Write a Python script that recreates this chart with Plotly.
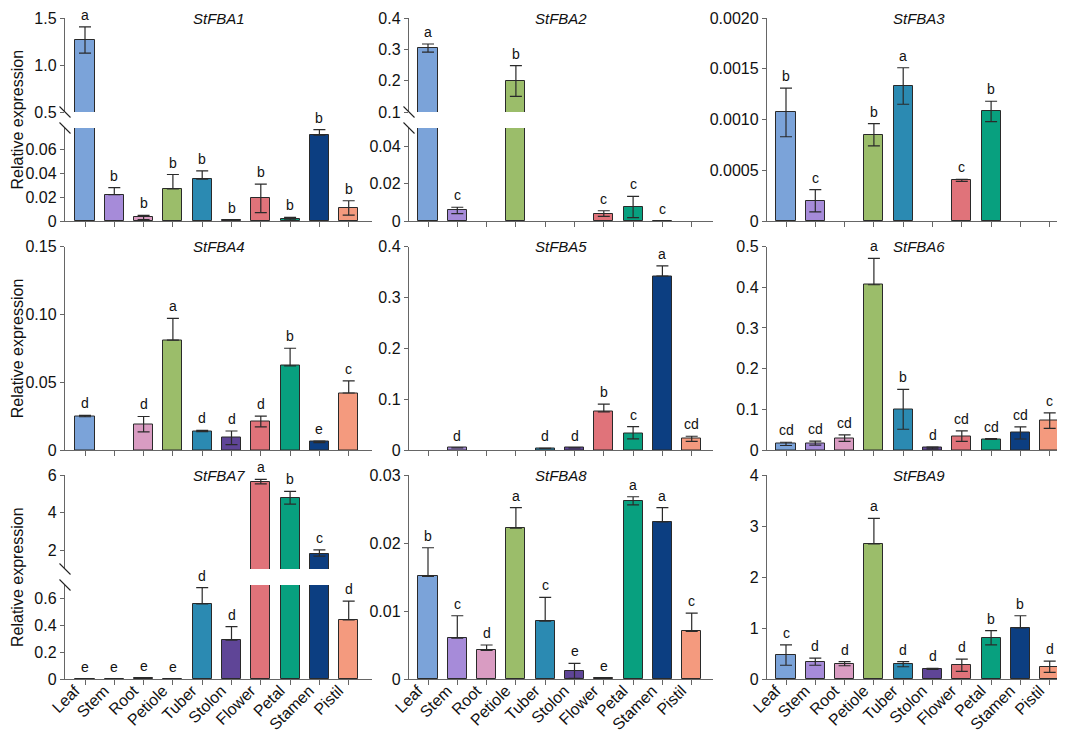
import plotly.graph_objects as go

# ---------------- data ----------------
categories = ["Leaf", "Stem", "Root", "Petiole", "Tuber", "Stolon", "Flower", "Petal", "Stamen", "Pistil"]
bar_colors = ["#7BA3D9", "#A68BD9", "#D99CC2", "#9BBD6A", "#2B8AB2", "#5F4597",
              "#E0737A", "#08A07F", "#0C3E81", "#F49A7E"]

FBA1_mean = [1.266, 0.022, 0.003, 0.027, 0.035, 0.0005, 0.019, 0.002, 0.072, 0.011]
FBA1_up = [0.14, 0.006, 0.0018, 0.012, 0.007, 0.0003, 0.012, 0.001, 0.0047, 0.006]
FBA1_down = [0.14, 0, 0.0018, 0, 0, 0, 0.012, 0.001, 0, 0.006]
FBA1_letters = ["a", "b", "b", "b", "b", "b", "b", "b", "b", "b"]

FBA2_mean = [0.304, 0.0057, 0, 0.198, 0, 0, 0.004, 0.0075, 0.0002, 0]
FBA2_up = [0.013, 0.0017, 0, 0.05, 0, 0, 0.0015, 0.0057, 0, 0]
FBA2_down = [0.013, 0.0017, 0, 0.048, 0, 0, 0.0015, 0.0057, 0, 0]
FBA2_letters = ["a", "c", "", "b", "", "", "c", "c", "c", ""]

FBA3_mean = [0.00107, 0.0002, 0, 0.00085, 0.00133, 0, 0.0004, 0.00108, 0, 0]
FBA3_up = [0.00024, 0.00011, 0, 0.00011, 0.00018, 0, 0.00001, 0.0001, 0, 0]
FBA3_down = [0.00024, 0.00011, 0, 0.00011, 0.00018, 0, 0.00001, 0.0001, 0, 0]
FBA3_letters = ["b", "c", "", "b", "a", "", "c", "b", "", ""]

FBA4_mean = [0.025, 0, 0.019, 0.081, 0.014, 0.009, 0.021, 0.062, 0.006, 0.042]
FBA4_up = [0.0005, 0, 0.0057, 0.016, 0.0005, 0.005, 0.004, 0.013, 0.0005, 0.009]
FBA4_down = [0.0005, 0, 0.0057, 0, 0.0005, 0.005, 0.004, 0, 0.0005, 0]
FBA4_letters = ["d", "", "d", "a", "d", "d", "d", "b", "e", "c"]

FBA5_mean = [0, 0.004, 0, 0, 0.003, 0.004, 0.075, 0.033, 0.342, 0.022]
FBA5_up = [0, 0, 0, 0, 0, 0, 0.015, 0.013, 0.02, 0.005]
FBA5_down = [0, 0, 0, 0, 0, 0, 0, 0.011, 0, 0.005]
FBA5_letters = ["", "d", "", "", "d", "d", "b", "c", "a", "cd"]

FBA6_mean = [0.015, 0.017, 0.029, 0.406, 0.1, 0.005, 0.034, 0.027, 0.042, 0.072]
FBA6_up = [0.004, 0.005, 0.008, 0.065, 0.049, 0.002, 0.013, 0.001, 0.015, 0.019]
FBA6_down = [0.004, 0.005, 0.008, 0, 0.049, 0.002, 0.013, 0.001, 0.015, 0.019]
FBA6_letters = ["cd", "cd", "cd", "a", "b", "d", "cd", "cd", "cd", "c"]

FBA7_mean = [0.003, 0.003, 0.006, 0.003, 0.56, 0.29, 5.65, 4.78, 1.82, 0.44]
FBA7_up = [0, 0, 0, 0, 0.12, 0.1, 0.12, 0.35, 0.2, 0.14]
FBA7_down = [0, 0, 0, 0, 0, 0, 0.12, 0.33, 0.14, 0]
FBA7_letters = ["e", "e", "e", "e", "d", "d", "a", "b", "c", "d"]

FBA8_mean = [0.0151, 0.006, 0.0042, 0.0222, 0.0085, 0.0012, 0.0001, 0.0262, 0.0231, 0.007]
FBA8_up = [0.0042, 0.0033, 0.0008, 0.003, 0.0035, 0.0011, 0, 0.0006, 0.0021, 0.0027]
FBA8_down = [0, 0, 0, 0, 0, 0.0011, 0, 0.0006, 0, 0]
FBA8_letters = ["b", "c", "d", "a", "c", "e", "e", "a", "a", "c"]

FBA9_mean = [0.47, 0.34, 0.30, 2.65, 0.29, 0.20, 0.27, 0.81, 1.0, 0.24]
FBA9_up = [0.2, 0.07, 0.04, 0.5, 0.05, 0.01, 0.12, 0.14, 0.24, 0.11]
FBA9_down = [0.2, 0.07, 0.04, 0, 0.05, 0.01, 0.12, 0.14, 0, 0.11]
FBA9_letters = ["c", "d", "d", "a", "d", "d", "d", "b", "b", "d"]

gene_names = ["StFBA1", "StFBA2", "StFBA3", "StFBA4", "StFBA5", "StFBA6", "StFBA7", "StFBA8", "StFBA9"]

# y-axis ticks
FBA1_ticks, FBA1_ticktext = [0, 0.02, 0.04, 0.06], ["0", "0.02", "0.04", "0.06"]
FBA1_upper_ticks, FBA1_upper_ticktext = [0.5, 1.0, 1.5], ["0.5", "1.0", "1.5"]
FBA2_ticks, FBA2_ticktext = [0, 0.02, 0.04], ["0", "0.02", "0.04"]
FBA2_upper_ticks, FBA2_upper_ticktext = [0.1, 0.2, 0.3, 0.4], ["0.1", "0.2", "0.3", "0.4"]
FBA3_ticks, FBA3_ticktext = [0, 0.0005, 0.001, 0.0015, 0.002], ["0", "0.0005", "0.0010", "0.0015", "0.0020"]
FBA4_ticks, FBA4_ticktext = [0, 0.05, 0.1, 0.15], ["0", "0.05", "0.10", "0.15"]
FBA5_ticks, FBA5_ticktext = [0, 0.1, 0.2, 0.3, 0.4], ["0", "0.1", "0.2", "0.3", "0.4"]
FBA6_ticks, FBA6_ticktext = [0, 0.1, 0.2, 0.3, 0.4, 0.5], ["0", "0.1", "0.2", "0.3", "0.4", "0.5"]
FBA7_ticks, FBA7_ticktext = [0, 0.2, 0.4, 0.6], ["0", "0.2", "0.4", "0.6"]
FBA7_upper_ticks, FBA7_upper_ticktext = [2, 4, 6], ["2", "4", "6"]
FBA8_ticks, FBA8_ticktext = [0, 0.01, 0.02, 0.03], ["0", "0.01", "0.02", "0.03"]
FBA9_ticks, FBA9_ticktext = [0, 1, 2, 3, 4], ["0", "1", "2", "3", "4"]

# ---------------- layout geometry (pixels) ----------------
W, H = 1065, 730
FONT = "Arial, 'Liberation Sans', sans-serif"
AXC = "#666666"
EDGE = "#2a2a2a"


def pxx(x):
    return x / W


def pxy(y):
    return 1 - y / H


cols = [(57, 364, 77), (401, 705, 420), (759, 1062, 778)]  # axis left, axis right, first tick
SPACING = 29.3
rows = [(10, 213), (238.5, 442), (467, 671)]

panels = [
    dict(mean=FBA1_mean, up=FBA1_up, down=FBA1_down, letters=FBA1_letters,
         ticks=FBA1_ticks, ticktext=FBA1_ticktext, yrange=[0, 0.078],
         upper=dict(range=[0.5, 1.5], ticks=FBA1_upper_ticks, ticktext=FBA1_upper_ticktext, split=(104, 120))),
    dict(mean=FBA2_mean, up=FBA2_up, down=FBA2_down, letters=FBA2_letters,
         ticks=FBA2_ticks, ticktext=FBA2_ticktext, yrange=[0, 0.05],
         upper=dict(range=[0.1, 0.4], ticks=FBA2_upper_ticks, ticktext=FBA2_upper_ticktext, split=(104, 120))),
    dict(mean=FBA3_mean, up=FBA3_up, down=FBA3_down, letters=FBA3_letters,
         ticks=FBA3_ticks, ticktext=FBA3_ticktext, yrange=[0, 0.002], upper=None),
    dict(mean=FBA4_mean, up=FBA4_up, down=FBA4_down, letters=FBA4_letters,
         ticks=FBA4_ticks, ticktext=FBA4_ticktext, yrange=[0, 0.15], upper=None),
    dict(mean=FBA5_mean, up=FBA5_up, down=FBA5_down, letters=FBA5_letters,
         ticks=FBA5_ticks, ticktext=FBA5_ticktext, yrange=[0, 0.4], upper=None),
    dict(mean=FBA6_mean, up=FBA6_up, down=FBA6_down, letters=FBA6_letters,
         ticks=FBA6_ticks, ticktext=FBA6_ticktext, yrange=[0, 0.5], upper=None),
    dict(mean=FBA7_mean, up=FBA7_up, down=FBA7_down, letters=FBA7_letters,
         ticks=FBA7_ticks, ticktext=FBA7_ticktext, yrange=[0, 0.7],
         upper=dict(range=[1, 6], ticks=FBA7_upper_ticks, ticktext=FBA7_upper_ticktext, split=(561, 577))),
    dict(mean=FBA8_mean, up=FBA8_up, down=FBA8_down, letters=FBA8_letters,
         ticks=FBA8_ticks, ticktext=FBA8_ticktext, yrange=[0, 0.03], upper=None),
    dict(mean=FBA9_mean, up=FBA9_up, down=FBA9_down, letters=FBA9_letters,
         ticks=FBA9_ticks, ticktext=FBA9_ticktext, yrange=[0, 4], upper=None),
]


def akey(kind, n):
    return f"{kind}axis" if n == 1 else f"{kind}axis{n}"


def aref(kind, n):
    return kind if n == 1 else f"{kind}{n}"


fig = go.Figure()
layout = {}
annotations = []
shapes = []
next_extra = 10
xidx = list(range(len(categories)))


def add_bars(n_x, n_y, p):
    # undetected (zero) samples are simply not drawn
    yvals = [v if v > 0 else None for v in p["mean"]]
    fig.add_trace(go.Bar(
        x=xidx, y=yvals, width=0.65,
        marker=dict(color=bar_colors, line=dict(color=EDGE, width=1)),
        error_y=dict(type="data", symmetric=False, array=p["up"], arrayminus=p["down"],
                     color=EDGE, thickness=1.2, width=6),
        xaxis=aref("x", n_x), yaxis=aref("y", n_y), showlegend=False, hoverinfo="skip",
    ))


def yaxis_dict(domain, rng, ticks, ticktext, anchor):
    return dict(domain=domain, range=rng, anchor=anchor, showline=True, linecolor=AXC, linewidth=1.4,
                ticks="outside", ticklen=4, tickwidth=1.4, tickcolor=AXC,
                tickvals=ticks, ticktext=ticktext, showgrid=False, zeroline=False,
                tickfont=dict(family=FONT, size=16, color="#111"), automargin=False, fixedrange=True)


for i, p in enumerate(panels):
    n = i + 1
    r, c = divmod(i, 3)
    xl, xr, t0 = cols[c]
    yt, yb = rows[r]
    xrange = [(xl - t0) / SPACING, (xr - t0) / SPACING]
    xdom = [pxx(xl), pxx(xr)]
    bottom_row = (r == 2)

    layout[akey("x", n)] = dict(
        domain=xdom, range=xrange, anchor=aref("y", n), showline=True, linecolor=AXC, linewidth=1.4,
        ticks="outside", ticklen=5, tickwidth=1.4, tickcolor=AXC,
        tickvals=xidx, ticktext=categories,
        showticklabels=bottom_row, tickangle=-45, ticklabelshift=-10, ticklabelstandoff=-10,
        tickfont=dict(family=FONT, size=16, color="#111"),
        showgrid=False, zeroline=False, automargin=False, fixedrange=True)

    up = p["upper"]
    lower_top = yt if up is None else up["split"][1]
    layout[akey("y", n)] = yaxis_dict([pxy(yb), pxy(lower_top)], p["yrange"], p["ticks"], p["ticktext"],
                                      aref("x", n))
    add_bars(n, n, p)

    upper_n = None
    if up is not None:
        upper_n = next_extra
        next_extra += 1
        layout[akey("x", upper_n)] = dict(domain=xdom, range=xrange, anchor=aref("y", upper_n), visible=False,
                                          fixedrange=True)
        layout[akey("y", upper_n)] = yaxis_dict([pxy(up["split"][0]), pxy(yt)], up["range"], up["ticks"],
                                                up["ticktext"], aref("x", upper_n))
        add_bars(upper_n, upper_n, p)
        # break marks
        for yb_px in up["split"]:
            shapes.append(dict(type="line", xref="paper", yref="paper",
                               x0=pxx(xl - 5.5), y0=pxy(yb_px - 5.5), x1=pxx(xl + 5.5), y1=pxy(yb_px + 5.5),
                               line=dict(color="#222", width=1.1)))

    # significance letters
    for k, letter in enumerate(p["letters"]):
        if not letter:
            continue
        top = p["mean"][k] + p["up"][k]
        if up is not None and top > p["yrange"][1]:
            yref, xref = aref("y", upper_n), aref("x", upper_n)
        else:
            yref, xref = aref("y", n), aref("x", n)
        annotations.append(dict(x=k, y=top, xref=xref, yref=yref, text=letter, showarrow=False,
                                yanchor="bottom", xanchor="center", yshift=2,
                                font=dict(family=FONT, size=14, color="#111")))

    # gene title
    annotations.append(dict(x=pxx((xl + xr) / 2), y=pxy(yt), xref="paper", yref="paper",
                            text=f"<i>{gene_names[i]}</i>", showarrow=False, xanchor="center",
                            yanchor="middle", font=dict(family=FONT, size=15, color="#111")))

# y titles
for yt, yb in rows:
    annotations.append(dict(x=pxx(9), y=pxy((yt + yb) / 2), xref="paper", yref="paper",
                            text="Relative expression", textangle=-90, showarrow=False,
                            xanchor="center", yanchor="middle",
                            font=dict(family=FONT, size=16, color="#111")))

fig.update_layout(
    width=W, height=H, margin=dict(l=0, r=0, t=0, b=0, pad=0),
    paper_bgcolor="white", plot_bgcolor="white", bargap=0,
    annotations=annotations, shapes=shapes, **layout,
)

fig.write_html("out.html", config={"displayModeBar": False})
